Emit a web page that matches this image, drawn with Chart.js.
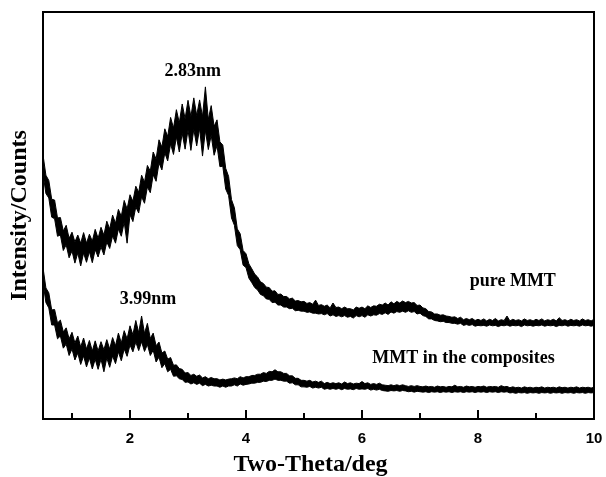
<!DOCTYPE html>
<html>
<head>
<meta charset="utf-8">
<title>XRD patterns</title>
<script src="https://cdn.jsdelivr.net/npm/chart.js@4.4.1/dist/chart.umd.min.js"></script>
<style>
    body { margin: 0; background: #fff; }
    #wrap { width: 606px; height: 477px; position: relative; }
</style>
</head>
<body>
<div id="wrap"><canvas id="xrdChart"></canvas></div>
<script>
// scan grid (deg 2-theta)
const scanStart = 0.5;
const scanStep = 0.05;

// counts are noisy, so each scan step keeps the high and low reading (arb. units)
const pureHigh = [
    64.9, 59.9, 58.6, 54.0, 53.8, 49.4, 49.5, 46.2, 47.6, 44.4,
    45.9, 43.5, 45.2, 43.2, 45.8, 43.2, 45.4, 43.7, 46.6, 44.4,
    47.1, 45.2, 48.6, 46.7, 50.1, 48.1, 51.5, 49.8, 53.7, 51.6,
    55.1, 53.5, 57.2, 55.7, 59.9, 58.2, 62.3, 60.9, 65.6, 63.9,
    68.6, 66.8, 71.3, 69.4, 74.1, 71.5, 76.0, 72.8, 77.4, 73.8,
    78.3, 74.3, 78.9, 74.6, 78.4, 74.3, 81.6, 73.6, 77.0, 71.9,
    73.5, 68.1, 67.3, 61.6, 59.6, 53.9, 51.9, 46.7, 45.5, 41.4,
    40.6, 38.1, 36.9, 35.6, 34.9, 33.7, 33.3, 32.4, 32.3, 31.4,
    31.5, 30.6, 30.7, 30.1, 30.1, 29.5, 29.7, 29.0, 29.1, 28.8,
    28.9, 28.4, 28.6, 28.2, 29.2, 27.9, 28.1, 27.7, 28.0, 27.3,
    28.5, 27.4, 27.5, 27.1, 27.5, 27.1, 27.1, 26.8, 27.5, 27.2,
    27.5, 27.1, 27.8, 27.4, 27.8, 27.7, 28.2, 28.0, 28.5, 28.0,
    28.8, 28.3, 28.9, 28.5, 29.0, 28.6, 28.9, 28.5, 28.6, 27.9,
    28.0, 27.3, 27.1, 26.4, 26.3, 25.8, 25.8, 25.5, 25.6, 25.3,
    25.2, 25.0, 25.1, 24.7, 25.0, 24.4, 24.7, 24.4, 24.7, 24.2,
    24.5, 24.2, 24.6, 24.1, 24.5, 24.2, 24.7, 24.1, 24.4, 24.2,
    25.3, 24.1, 24.5, 24.2, 24.4, 24.1, 24.6, 24.2, 24.4, 24.1,
    24.5, 24.2, 24.6, 24.1, 24.4, 24.2, 24.5, 24.1, 24.9, 24.2,
    24.4, 24.1, 24.5, 24.2, 24.4, 24.1, 24.6, 24.2, 24.4, 24.1,
    24.5
];
const pureLow = [
    60.3, 55.4, 54.3, 49.6, 49.2, 44.9, 45.2, 41.4, 42.8, 39.6,
    41.3, 38.3, 40.8, 37.6, 40.8, 38.5, 41.1, 38.4, 41.6, 39.8,
    42.3, 40.3, 43.5, 41.9, 45.0, 43.2, 46.7, 44.9, 48.4, 43.2,
    50.2, 48.5, 52.1, 50.6, 54.6, 53.0, 57.0, 55.6, 60.0, 58.4,
    62.9, 61.2, 65.4, 63.4, 67.6, 65.0, 69.3, 65.6, 70.2, 66.3,
    71.0, 66.0, 71.2, 67.1, 71.4, 64.6, 70.9, 66.2, 69.7, 64.8,
    67.2, 62.0, 62.1, 56.5, 54.9, 49.4, 47.6, 42.6, 41.6, 37.8,
    37.2, 34.6, 33.5, 32.3, 31.7, 30.6, 30.3, 29.5, 29.4, 28.6,
    28.7, 28.0, 28.0, 27.5, 27.5, 27.1, 27.2, 26.6, 26.7, 26.5,
    26.5, 26.2, 26.3, 26.0, 26.0, 25.8, 25.9, 25.6, 25.9, 25.3,
    25.6, 25.2, 25.4, 25.1, 25.4, 25.0, 25.2, 24.8, 25.4, 25.1,
    25.4, 25.0, 25.6, 25.3, 25.6, 25.5, 25.9, 25.7, 26.1, 25.7,
    26.3, 26.0, 26.4, 26.2, 26.5, 26.2, 26.6, 26.2, 26.4, 25.8,
    26.0, 25.4, 25.2, 24.6, 24.6, 24.2, 24.1, 23.9, 24.0, 23.7,
    23.7, 23.5, 23.5, 23.3, 23.5, 23.0, 23.2, 23.0, 23.2, 22.8,
    23.0, 22.9, 23.0, 22.8, 23.1, 22.9, 23.0, 22.7, 23.0, 22.9,
    23.1, 22.8, 23.0, 22.9, 23.0, 22.7, 23.1, 22.9, 23.0, 22.8,
    23.0, 22.9, 23.1, 22.8, 23.0, 22.9, 23.0, 22.7, 23.0, 22.9,
    23.1, 22.8, 23.0, 22.9, 23.0, 22.8, 23.1, 22.9, 23.0, 22.8,
    23.0
];

const compHigh = [
    37.2, 32.2, 31.0, 26.8, 26.9, 23.6, 24.3, 21.4, 22.4, 19.7,
    21.3, 18.7, 20.4, 17.7, 19.9, 17.2, 19.3, 16.7, 19.2, 16.7,
    19.0, 17.0, 19.5, 17.2, 20.0, 18.0, 21.1, 18.7, 21.7, 19.7,
    22.9, 20.7, 24.2, 21.2, 25.3, 21.0, 23.5, 19.8, 21.1, 18.0,
    18.9, 16.2, 16.7, 14.7, 15.1, 13.2, 13.3, 12.4, 12.2, 11.3,
    11.4, 10.7, 11.0, 10.5, 10.8, 10.1, 10.4, 9.9, 10.2, 9.9,
    9.9, 9.6, 9.8, 9.6, 9.8, 9.9, 10.1, 9.9, 10.4, 10.1,
    10.4, 10.4, 10.7, 10.7, 11.0, 11.0, 11.4, 11.2, 11.7, 11.6,
    12.1, 11.6, 11.6, 11.2, 11.2, 10.6, 10.6, 10.0, 10.0, 9.5,
    9.5, 9.3, 9.5, 9.1, 9.3, 9.0, 9.3, 8.7, 9.0, 8.7,
    8.9, 8.7, 8.9, 8.6, 9.1, 8.7, 8.9, 8.6, 8.8, 8.7,
    9.2, 8.7, 8.9, 8.5, 8.7, 8.5, 8.8, 8.4, 8.3, 8.2,
    8.4, 8.2, 8.4, 8.2, 8.4, 8.2, 8.0, 8.2, 8.0, 8.2,
    8.0, 7.9, 8.1, 7.9, 8.0, 7.8, 8.1, 7.9, 8.0, 7.8,
    8.0, 7.9, 8.3, 7.9, 8.0, 7.8, 8.1, 7.9, 8.0, 7.8,
    8.0, 7.9, 8.1, 7.8, 8.0, 7.9, 8.0, 7.8, 8.2, 7.9,
    8.0, 7.7, 7.9, 7.7, 7.8, 7.6, 7.9, 7.7, 7.8, 7.6,
    7.8, 7.7, 7.9, 7.6, 7.8, 7.7, 7.8, 7.6, 7.9, 7.7,
    7.8, 7.6, 7.8, 7.7, 7.9, 7.6, 7.8, 7.7, 7.8, 7.6,
    7.8
];
const compLow = [
    33.6, 28.6, 27.3, 23.1, 23.1, 19.7, 20.4, 17.4, 18.4, 15.6,
    17.2, 14.5, 16.2, 13.4, 15.5, 12.8, 15.0, 12.3, 14.7, 12.2,
    14.7, 11.6, 15.0, 12.7, 15.5, 13.6, 16.5, 14.3, 17.2, 15.4,
    18.2, 16.5, 18.9, 16.8, 19.0, 16.6, 18.3, 15.6, 16.9, 14.0,
    15.2, 12.6, 13.6, 11.6, 12.2, 10.5, 10.6, 9.9, 9.7, 9.0,
    9.1, 8.6, 8.9, 8.5, 8.8, 8.2, 8.5, 8.1, 8.3, 8.1,
    8.1, 7.8, 8.1, 7.8, 8.1, 8.1, 8.4, 8.1, 8.6, 8.3,
    8.5, 8.6, 8.8, 8.8, 9.0, 9.0, 9.3, 9.2, 9.5, 9.5,
    9.8, 9.5, 9.5, 9.3, 9.3, 8.8, 8.9, 8.4, 8.4, 7.9,
    7.9, 7.8, 8.0, 7.6, 7.8, 7.6, 7.8, 7.3, 7.5, 7.3,
    7.5, 7.3, 7.5, 7.2, 7.5, 7.3, 7.4, 7.2, 7.5, 7.3,
    7.4, 7.3, 7.5, 7.1, 7.3, 7.1, 7.3, 7.0, 6.9, 6.8,
    7.0, 6.9, 7.0, 6.8, 7.0, 6.9, 6.7, 6.8, 6.6, 6.8,
    6.7, 6.6, 6.7, 6.5, 6.7, 6.6, 6.7, 6.5, 6.7, 6.6,
    6.7, 6.5, 6.7, 6.6, 6.7, 6.5, 6.7, 6.6, 6.7, 6.5,
    6.7, 6.6, 6.7, 6.5, 6.7, 6.6, 6.7, 6.5, 6.7, 6.6,
    6.7, 6.4, 6.5, 6.3, 6.5, 6.4, 6.5, 6.3, 6.5, 6.4,
    6.5, 6.3, 6.5, 6.4, 6.5, 6.3, 6.5, 6.4, 6.5, 6.3,
    6.5, 6.4, 6.5, 6.3, 6.5, 6.4, 6.5, 6.3, 6.5, 6.4,
    6.5
];

// x axis marks
const majorTicks = [2, 4, 6, 8, 10];
const minorTicks = [1, 3, 5, 7, 9];

// peak d-spacings and sample names, placed in data coordinates
const notes = [
    { text: '2.83nm', x: 3.08, y: 85.3 },
    { text: '3.99nm', x: 2.31, y: 29.5 },
    { text: 'pure MMT', x: 8.60, y: 33.7 },
    { text: 'MMT in the composites', x: 7.75, y: 15.0 }
];

const serif = '"Liberation Serif", "Times New Roman", serif';

function toPoints(values) {
    return values.map((v, i) => ({ x: +(scanStart + i * scanStep).toFixed(2), y: v }));
}

function bandEdge(values, fillToNext) {
    return {
        data: toPoints(values),
        borderColor: '#000',
        backgroundColor: '#000',
        borderWidth: 1,
        pointRadius: 0,
        tension: 0,
        fill: fillToNext ? '+1' : false
    };
}

// ************** frame, inward ticks, x title and notes
const framePlugin = {
    id: 'framePlugin',
    afterDraw(chart) {
        const { ctx, chartArea: a, scales: { x, y } } = chart;
        ctx.save();
        ctx.strokeStyle = '#000';
        ctx.lineWidth = 2;
        ctx.strokeRect(a.left, a.top, a.right - a.left, a.bottom - a.top);

        majorTicks.forEach(t => {
            const px = x.getPixelForValue(t);
            ctx.beginPath();
            ctx.moveTo(px, a.bottom);
            ctx.lineTo(px, a.bottom - 9);
            ctx.stroke();
        });
        minorTicks.forEach(t => {
            const px = x.getPixelForValue(t);
            ctx.beginPath();
            ctx.moveTo(px, a.bottom);
            ctx.lineTo(px, a.bottom - 6);
            ctx.stroke();
        });

        ctx.fillStyle = '#000';
        ctx.textAlign = 'center';
        ctx.textBaseline = 'middle';

        // axis title sits a little left of the plot centre
        ctx.font = 'bold 24px ' + serif;
        ctx.fillText('Two-Theta/deg', (a.left + a.right) / 2 - 8, a.bottom + 46);

        ctx.font = 'bold 18px ' + serif;
        notes.forEach(n => {
            ctx.fillText(n.text, x.getPixelForValue(n.x), y.getPixelForValue(n.y));
        });
        ctx.restore();
    }
};

const ctx = document.getElementById('xrdChart').getContext('2d');
const xrdChart = new Chart(ctx, {
    type: 'line',
    data: {
        datasets: [
            bandEdge(pureHigh, true),
            bandEdge(pureLow, false),
            bandEdge(compHigh, true),
            bandEdge(compLow, false)
        ]
    },
    options: {
        responsive: true,
        maintainAspectRatio: false,
        animation: false,
        layout: { padding: { top: 12, right: 12, left: 0, bottom: 0 } },
        plugins: {
            legend: { display: false },
            tooltip: { enabled: false }
        },
        scales: {
            x: {
                type: 'linear',
                min: 0.5,
                max: 10,
                grid: { display: false },
                border: { display: false },
                ticks: {
                    stepSize: 1,
                    autoSkip: false,
                    maxRotation: 0,
                    padding: 3,
                    color: '#000',
                    font: { family: '"Liberation Sans", Arial, sans-serif', size: 15, weight: 'bold' },
                    callback: v => (majorTicks.includes(v) ? v : '')
                },
                title: { display: false },
                afterFit: s => {
                    s.height = 58;
                    s.paddingLeft = 0;
                    s.paddingRight = 0;
                }
            },
            y: {
                min: 0,
                max: 100,
                grid: { display: false },
                border: { display: false },
                ticks: { display: false },
                title: {
                    display: true,
                    text: 'Intensity/Counts',
                    color: '#000',
                    font: { family: serif, size: 24, weight: 'bold', lineHeight: 1 },
                    padding: { top: 8, bottom: 0 }
                },
                afterFit: s => { s.width = 43; }
            }
        }
    },
    plugins: [framePlugin]
});
</script>
</body>
</html>
